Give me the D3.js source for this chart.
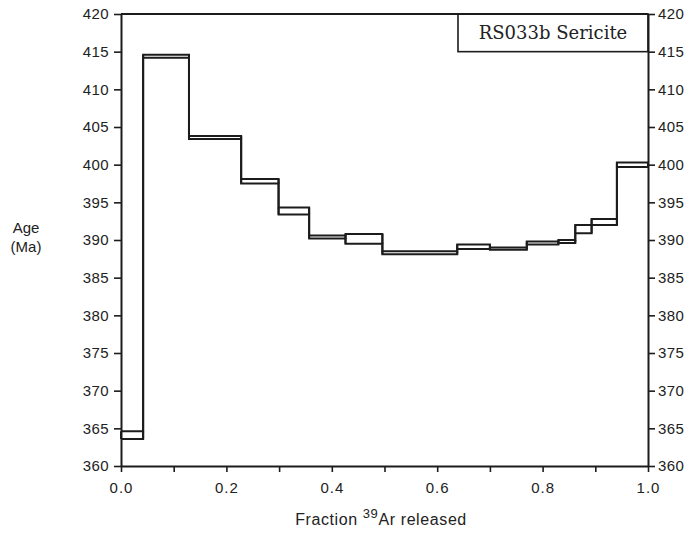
<!DOCTYPE html>
<html>
<head>
<meta charset="utf-8">
<script src="https://cdn.jsdelivr.net/npm/d3@7"></script>
<style>
  html, body { margin: 0; padding: 0; background: #fff; }
  svg { display: block; }
</style>
</head>
<body>
<svg id="chart" width="690" height="533"></svg>
<script>
// Step boundaries (cumulative fraction of 39Ar released) — start of each step
const stepStart = [0.000, 0.042, 0.129, 0.228, 0.299, 0.357, 0.426, 0.496, 0.638, 0.700, 0.770, 0.830, 0.862, 0.893, 0.941];
const stepEnd   = [0.042, 0.129, 0.228, 0.299, 0.357, 0.426, 0.496, 0.638, 0.700, 0.770, 0.830, 0.862, 0.893, 0.941, 1.000];
// Apparent ages (Ma): lower and upper error limits of each step
const ageLow  = [363.6, 414.2, 403.4, 397.5, 393.4, 390.2, 389.5, 388.1, 388.8, 388.7, 389.4, 389.6, 390.9, 392.0, 399.7];
const ageHigh = [364.6, 414.6, 403.8, 398.1, 394.3, 390.6, 390.8, 388.5, 389.4, 389.0, 389.8, 390.0, 392.0, 392.8, 400.3];

const yTicks = [360, 365, 370, 375, 380, 385, 390, 395, 400, 405, 410, 415, 420];
const xTicks = [0, 0.1, 0.2, 0.3, 0.4, 0.5, 0.6, 0.7, 0.8, 0.9, 1.0];
const xLabelled = [0, 0.2, 0.4, 0.6, 0.8, 1.0];
const sampleLabel = "RS033b Sericite";

(function () {
const svg = d3.select("#chart");
const ink = "#1c1c1c";
const pL = 121, pR = 648, pT = 14, pB = 466;

const x = d3.scaleLinear().domain([0, 1]).range([pL, pR]);
const y = d3.scaleLinear().domain([360, 420]).range([pB, pT]);

// Spectrum: upper and lower step lines
const line = d3.line().x(d => x(d[0])).y(d => y(d[1])).curve(d3.curveStepAfter);
function pts(arr) {
  const p = stepStart.map((s, i) => [s, arr[i]]);
  p.push([stepEnd[stepEnd.length - 1], arr[arr.length - 1]]);
  return p;
}
const g = svg.append("g");
g.append("path").attr("d", line(pts(ageHigh))).attr("fill", "none").attr("stroke", ink).attr("stroke-width", 2);
g.append("path").attr("d", line(pts(ageLow))).attr("fill", "none").attr("stroke", ink).attr("stroke-width", 2);
stepStart.forEach((s, i) => {
  g.append("line")
    .attr("x1", x(s)).attr("x2", x(s))
    .attr("y1", y(ageLow[i])).attr("y2", y(ageHigh[i]))
    .attr("stroke", ink).attr("stroke-width", 2);
  g.append("line")
    .attr("x1", x(stepEnd[i])).attr("x2", x(stepEnd[i]))
    .attr("y1", y(ageLow[i])).attr("y2", y(ageHigh[i]))
    .attr("stroke", ink).attr("stroke-width", 2);
});

// Axes
const axisFont = "'Liberation Sans', Arial, sans-serif";
function styleAxis(sel) {
  sel.select(".domain").attr("stroke", ink).attr("stroke-width", 2);
  sel.selectAll(".tick line").attr("stroke", ink).attr("stroke-width", 1.6);
  sel.selectAll(".tick text").attr("fill", "#222").style("font-family", axisFont)
    .style("font-size", "15px").style("letter-spacing", "0.4px");
}
const gl = svg.append("g").attr("transform", `translate(${pL},0)`)
  .call(d3.axisLeft(y).tickValues(yTicks).tickSize(7).tickSizeOuter(0).tickPadding(5).tickFormat(d3.format("d")));
styleAxis(gl);
const gr = svg.append("g").attr("transform", `translate(${pR},0)`)
  .call(d3.axisRight(y).tickValues(yTicks).tickSize(7).tickSizeOuter(0).tickPadding(3).tickFormat(d3.format("d")));
styleAxis(gr);
const gb = svg.append("g").attr("transform", `translate(0,${pB})`)
  .call(d3.axisBottom(x).tickValues(xTicks).tickSize(6).tickSizeOuter(0).tickPadding(10)
    .tickFormat(d => xLabelled.some(v => Math.abs(v - d) < 1e-9) ? d3.format(".1f")(d) : ""));
styleAxis(gb);
gb.selectAll(".tick text").style("letter-spacing", "1px");
svg.append("line").attr("x1", pL).attr("x2", pR).attr("y1", pT).attr("y2", pT)
  .attr("stroke", ink).attr("stroke-width", 2);

// Sample label box
const boxX0 = 458;
svg.append("rect").attr("x", boxX0).attr("y", pT).attr("width", pR - boxX0).attr("height", y(415) - pT)
  .attr("fill", "none").attr("stroke", ink).attr("stroke-width", 1.6);
svg.append("text").attr("x", (boxX0 + pR) / 2).attr("y", (pT + y(415)) / 2 + 6)
  .attr("text-anchor", "middle").attr("fill", "#222")
  .style("font-family", "'DejaVu Serif', 'Liberation Serif', serif").style("font-size", "18px")
  .text(sampleLabel);

// Axis titles
const yt = svg.append("text").attr("fill", "#222").style("font-family", axisFont).style("font-size", "15px");
yt.append("tspan").attr("x", 26).attr("y", 233).attr("text-anchor", "middle").text("Age");
yt.append("tspan").attr("x", 26).attr("y", 252).attr("text-anchor", "middle").text("(Ma)");

const xt = svg.append("text").attr("x", 381).attr("y", 525).attr("text-anchor", "middle")
  .attr("fill", "#222").style("font-family", axisFont).style("font-size", "16px").style("letter-spacing", "0.6px");
xt.append("tspan").text("Fraction ");
xt.append("tspan").attr("dy", -7).style("font-size", "13px").text("39");
xt.append("tspan").attr("dy", 7).text("Ar released");
})();
</script>
</body>
</html>
